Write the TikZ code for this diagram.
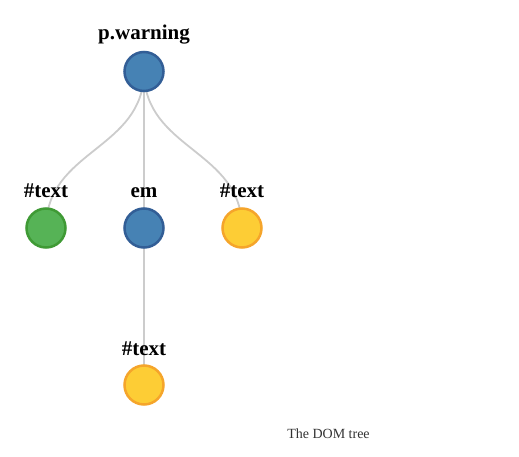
\documentclass[tikz,border=0pt]{standalone}
\usepackage{fontspec}
\setmainfont{Liberation Serif}
\definecolor{bluefill}{HTML}{4682B4}
\definecolor{bluedraw}{HTML}{325E96}
\definecolor{greenfill}{HTML}{56B356}
\definecolor{greendraw}{HTML}{3F9A35}
\definecolor{yellowfill}{HTML}{FDCD35}
\definecolor{yellowdraw}{HTML}{F5A52B}
\definecolor{linkgray}{HTML}{CCCCCC}
\definecolor{captiongray}{HTML}{333333}
\begin{document}
\begin{tikzpicture}[x=1pt,y=-1pt,
  dot/.style={circle,minimum size=39pt,inner sep=0pt,line width=2.5pt},
  bluedot/.style={dot,fill=bluefill,draw=bluedraw},
  greendot/.style={dot,fill=greenfill,draw=greendraw},
  yellowdot/.style={dot,fill=yellowfill,draw=yellowdraw},
  lbl/.style={anchor=base,inner sep=0pt,font=\fontsize{21}{21}\selectfont\bfseries},
  link/.style={draw=linkgray,line width=1.8pt}]
\useasboundingbox (0,0) rectangle (519,457);
\coordinate (r) at (144,71.5);
\coordinate (c1) at (46,228);
\coordinate (c2) at (144,228);
\coordinate (c3) at (242,228);
\coordinate (g) at (144,385);
% links
\draw[link] (r) .. controls (144,149.75) and (46,149.75) .. (c1);
\draw[link] (r) -- (c2);
\draw[link] (r) .. controls (144,149.75) and (242,149.75) .. (c3);
\draw[link] (c2) -- (g);
% nodes
\node[bluedot] (nr) at (r) {};
\node[greendot] (n1) at (c1) {};
\node[bluedot] (n2) at (c2) {};
\node[yellowdot] (n3) at (c3) {};
\node[yellowdot] (ng) at (g) {};
% labels
\node[lbl] (lr) at (144,40) {p.warning};
\node[lbl] (l1) at (46,197.5) {\#text};
\node[lbl] (l2) at (144,197.5) {em};
\node[lbl] (l3) at (242,197.5) {\#text};
\node[lbl] (lg) at (144,355) {\#text};
\node[anchor=base,inner sep=0pt,font=\fontsize{14}{14}\selectfont,text=captiongray] (cap) at (328.5,438) {The DOM tree};
\end{tikzpicture}
\end{document}
